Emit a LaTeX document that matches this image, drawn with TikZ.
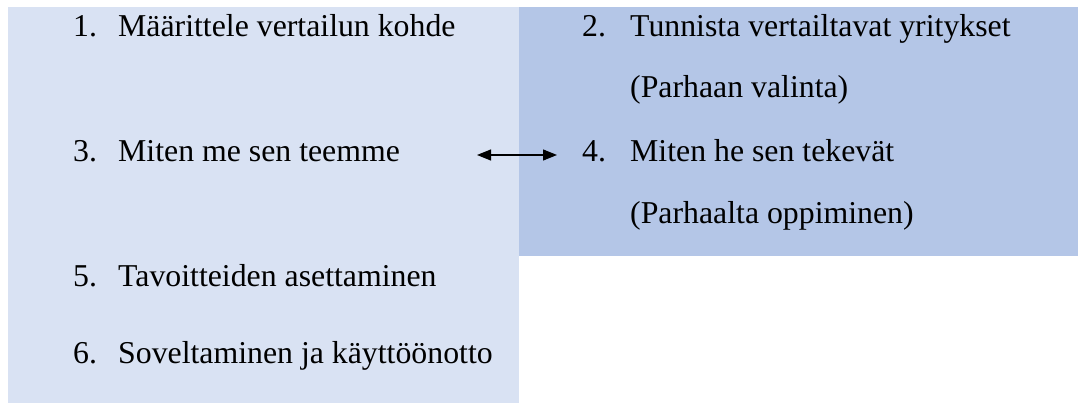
\documentclass[tikz,border=0pt]{standalone}
\usepackage{fontspec}
\setmainfont{Liberation Serif}
\usetikzlibrary{arrows.meta}
\definecolor{lightpanel}{HTML}{D9E2F3}
\definecolor{darkpanel}{HTML}{B4C6E7}
\begin{document}
\begin{tikzpicture}[x=1pt,y=-1pt,
  txt/.style={anchor=base west,inner sep=0pt,font=\fontsize{31.8}{38}\selectfont},
  link/.style={line width=1.2pt,{Triangle[length=14pt,width=11pt]}-{Triangle[length=14pt,width=11pt]}}]
\useasboundingbox (0,0) rectangle (1078,403);
\fill[lightpanel] (7.5,7.5) rectangle (519,403);
\fill[darkpanel] (519,7.5) rectangle (1078,256);
% left column
\node[txt] (n1) at (73,37) {1.};
\node[txt] (t1) at (118,37) {Määrittele vertailun kohde};
\node[txt] (n3) at (73,162) {3.};
\node[txt] (t3) at (118,162) {Miten me sen teemme};
\node[txt] (n5) at (73,286) {5.};
\node[txt] (t5) at (118,286) {Tavoitteiden asettaminen};
\node[txt] (n6) at (73,363) {6.};
\node[txt] (t6) at (118,363) {Soveltaminen ja käyttöönotto};
% right column
\node[txt] (n2) at (582,37) {2.};
\node[txt] (t2) at (630,37) {Tunnista vertailtavat yritykset};
\node[txt] (t2b) at (630,98) {(Parhaan valinta)};
\node[txt] (n4) at (582,162) {4.};
\node[txt] (t4) at (630,162) {Miten he sen tekevät};
\node[txt] (t4b) at (630,224) {(Parhaalta oppiminen)};
% arrow
\coordinate (a3) at (477,155);
\coordinate (a4) at (557,155);
\draw[link] (a3) -- (a4);
\end{tikzpicture}
\end{document}
